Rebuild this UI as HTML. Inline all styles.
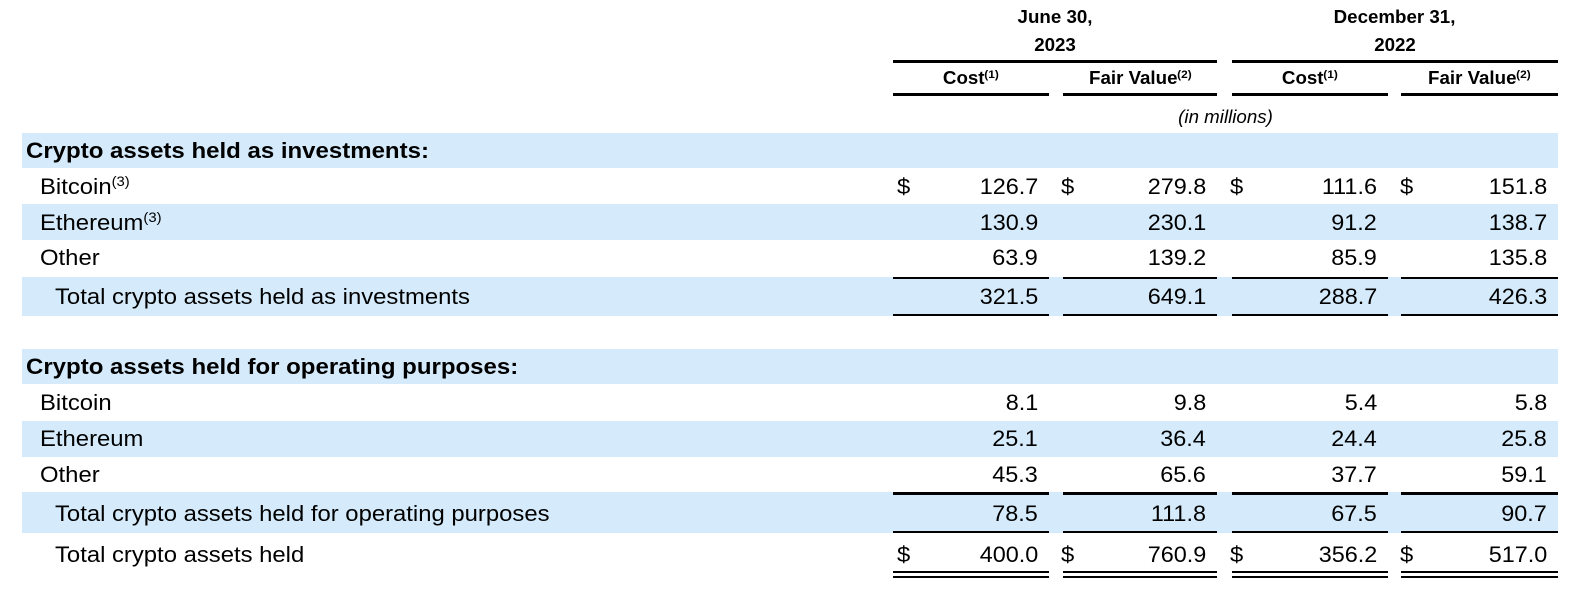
<!DOCTYPE html>
<html>
<head>
<meta charset="utf-8">
<style>
  html,body{margin:0;padding:0;background:#fff;}
  body{width:1578px;height:590px;position:relative;overflow:hidden;
       font-family:"Liberation Sans",Arial,sans-serif;color:#000;}
  .band{position:absolute;left:22px;width:1536px;background:#d5ebfb;}
  .ln{position:absolute;background:#000;}
  .row{position:absolute;left:0;width:1578px;}
  .l{position:absolute;top:0;bottom:0;display:flex;align-items:center;white-space:nowrap;font-size:22.5px;}
  .l span.s{display:inline-block;transform:scaleX(1.06);transform-origin:left center;}
  .l.b span.s{transform:scaleX(1.067);}
  .r{position:absolute;top:0;bottom:0;display:flex;align-items:center;justify-content:flex-end;white-space:nowrap;font-size:22.5px;}
  .r span{display:inline-block;transform:scaleX(1.04);transform-origin:right center;}
  .b{font-weight:bold;}
  .sup{font-size:14px;position:relative;top:-8px;}
  .h{position:absolute;font-weight:bold;font-size:18px;white-space:nowrap;text-align:center;line-height:20px;}
  .h span{display:inline-block;transform:scaleX(1.04);}
  .hsup{font-size:11px;position:relative;top:-6px;}
</style>
</head>
<body>

<!-- column headers -->
<div class="h" style="left:893px;width:324px;top:7px;"><span>June 30,</span></div>
<div class="h" style="left:893px;width:324px;top:35px;"><span>2023</span></div>
<div class="h" style="left:1232px;width:326px;top:7px;"><span>December 31,</span></div>
<div class="h" style="left:1232px;width:326px;top:35px;"><span>2022</span></div>

<div class="ln" style="left:893px;width:324px;top:60px;height:3px;"></div>
<div class="ln" style="left:1232px;width:326px;top:60px;height:3px;"></div>

<div class="h" style="left:893px;width:156px;top:68px;"><span>Cost<span class="hsup">(1)</span></span></div>
<div class="h" style="left:1063px;width:154px;top:68px;"><span>Fair Value<span class="hsup">(2)</span></span></div>
<div class="h" style="left:1232px;width:156px;top:68px;"><span>Cost<span class="hsup">(1)</span></span></div>
<div class="h" style="left:1401px;width:157px;top:68px;"><span>Fair Value<span class="hsup">(2)</span></span></div>

<div class="ln" style="left:893px;width:156px;top:93px;height:3px;"></div>
<div class="ln" style="left:1063px;width:154px;top:93px;height:3px;"></div>
<div class="ln" style="left:1232px;width:156px;top:93px;height:3px;"></div>
<div class="ln" style="left:1401px;width:157px;top:93px;height:3px;"></div>

<div class="h" style="left:1063px;width:326px;top:107px;font-weight:normal;font-style:italic;"><span>(in millions)</span></div>

<!-- bands -->
<div class="band" style="top:133px;height:35px;"></div>
<div class="band" style="top:204px;height:36px;"></div>
<div class="band" style="top:277px;height:39px;"></div>
<div class="band" style="top:349px;height:35px;"></div>
<div class="band" style="top:421px;height:36px;"></div>
<div class="band" style="top:492px;height:41px;"></div>

<!-- lines -->
<div class="ln" style="left:893px;width:156px;top:277px;height:2px;"></div>
<div class="ln" style="left:1063px;width:154px;top:277px;height:2px;"></div>
<div class="ln" style="left:1232px;width:156px;top:277px;height:2px;"></div>
<div class="ln" style="left:1401px;width:157px;top:277px;height:2px;"></div>

<div class="ln" style="left:893px;width:156px;top:314px;height:2px;"></div>
<div class="ln" style="left:1063px;width:154px;top:314px;height:2px;"></div>
<div class="ln" style="left:1232px;width:156px;top:314px;height:2px;"></div>
<div class="ln" style="left:1401px;width:157px;top:314px;height:2px;"></div>

<div class="ln" style="left:893px;width:156px;top:492px;height:3px;"></div>
<div class="ln" style="left:1063px;width:154px;top:492px;height:3px;"></div>
<div class="ln" style="left:1232px;width:156px;top:492px;height:3px;"></div>
<div class="ln" style="left:1401px;width:157px;top:492px;height:3px;"></div>

<div class="ln" style="left:893px;width:156px;top:531px;height:2px;"></div>
<div class="ln" style="left:1063px;width:154px;top:531px;height:2px;"></div>
<div class="ln" style="left:1232px;width:156px;top:531px;height:2px;"></div>
<div class="ln" style="left:1401px;width:157px;top:531px;height:2px;"></div>

<div class="ln" style="left:893px;width:156px;top:571px;height:2px;"></div>
<div class="ln" style="left:1063px;width:154px;top:571px;height:2px;"></div>
<div class="ln" style="left:1232px;width:156px;top:571px;height:2px;"></div>
<div class="ln" style="left:1401px;width:157px;top:571px;height:2px;"></div>
<div class="ln" style="left:893px;width:156px;top:576px;height:2px;"></div>
<div class="ln" style="left:1063px;width:154px;top:576px;height:2px;"></div>
<div class="ln" style="left:1232px;width:156px;top:576px;height:2px;"></div>
<div class="ln" style="left:1401px;width:157px;top:576px;height:2px;"></div>

<!-- R1 -->
<div class="row" style="top:133px;height:35px;">
  <div class="l b" style="left:26px;"><span class="s">Crypto assets held as investments:</span></div>
</div>
<!-- R2 -->
<div class="row" style="top:168px;height:37px;">
  <div class="l" style="left:40px;"><span class="s">Bitcoin<span class="sup">(3)</span></span></div>
  <div class="l" style="left:897px;"><span class="s">$</span></div>
  <div class="r" style="right:540px;"><span>126.7</span></div>
  <div class="l" style="left:1061px;"><span class="s">$</span></div>
  <div class="r" style="right:372px;"><span>279.8</span></div>
  <div class="l" style="left:1230px;"><span class="s">$</span></div>
  <div class="r" style="right:201px;"><span>111.6</span></div>
  <div class="l" style="left:1400px;"><span class="s">$</span></div>
  <div class="r" style="right:31px;"><span>151.8</span></div>
</div>
<!-- R3 -->
<div class="row" style="top:204px;height:37px;">
  <div class="l" style="left:40px;"><span class="s">Ethereum<span class="sup">(3)</span></span></div>
  <div class="r" style="right:540px;"><span>130.9</span></div>
  <div class="r" style="right:372px;"><span>230.1</span></div>
  <div class="r" style="right:201px;"><span>91.2</span></div>
  <div class="r" style="right:31px;"><span>138.7</span></div>
</div>
<!-- R4 -->
<div class="row" style="top:240px;height:36px;">
  <div class="l" style="left:40px;"><span class="s">Other</span></div>
  <div class="r" style="right:540px;"><span>63.9</span></div>
  <div class="r" style="right:372px;"><span>139.2</span></div>
  <div class="r" style="right:201px;"><span>85.9</span></div>
  <div class="r" style="right:31px;"><span>135.8</span></div>
</div>
<!-- R5 -->
<div class="row" style="top:279px;height:35px;">
  <div class="l" style="left:55px;"><span class="s">Total crypto assets held as investments</span></div>
  <div class="r" style="right:540px;"><span>321.5</span></div>
  <div class="r" style="right:372px;"><span>649.1</span></div>
  <div class="r" style="right:201px;"><span>288.7</span></div>
  <div class="r" style="right:31px;"><span>426.3</span></div>
</div>
<!-- R6 -->
<div class="row" style="top:349px;height:35px;">
  <div class="l b" style="left:26px;"><span class="s">Crypto assets held for operating purposes:</span></div>
</div>
<!-- R7 -->
<div class="row" style="top:384px;height:37px;">
  <div class="l" style="left:40px;"><span class="s">Bitcoin</span></div>
  <div class="r" style="right:540px;"><span>8.1</span></div>
  <div class="r" style="right:372px;"><span>9.8</span></div>
  <div class="r" style="right:201px;"><span>5.4</span></div>
  <div class="r" style="right:31px;"><span>5.8</span></div>
</div>
<!-- R8 -->
<div class="row" style="top:421px;height:36px;">
  <div class="l" style="left:40px;"><span class="s">Ethereum</span></div>
  <div class="r" style="right:540px;"><span>25.1</span></div>
  <div class="r" style="right:372px;"><span>36.4</span></div>
  <div class="r" style="right:201px;"><span>24.4</span></div>
  <div class="r" style="right:31px;"><span>25.8</span></div>
</div>
<!-- R9 -->
<div class="row" style="top:457px;height:35px;">
  <div class="l" style="left:40px;"><span class="s">Other</span></div>
  <div class="r" style="right:540px;"><span>45.3</span></div>
  <div class="r" style="right:372px;"><span>65.6</span></div>
  <div class="r" style="right:201px;"><span>37.7</span></div>
  <div class="r" style="right:31px;"><span>59.1</span></div>
</div>
<!-- R10 -->
<div class="row" style="top:495px;height:37px;">
  <div class="l" style="left:55px;"><span class="s">Total crypto assets held for operating purposes</span></div>
  <div class="r" style="right:540px;"><span>78.5</span></div>
  <div class="r" style="right:372px;"><span>111.8</span></div>
  <div class="r" style="right:201px;"><span>67.5</span></div>
  <div class="r" style="right:31px;"><span>90.7</span></div>
</div>
<!-- R11 -->
<div class="row" style="top:536px;height:38px;">
  <div class="l" style="left:55px;"><span class="s">Total crypto assets held</span></div>
  <div class="l" style="left:897px;"><span class="s">$</span></div>
  <div class="r" style="right:540px;"><span>400.0</span></div>
  <div class="l" style="left:1061px;"><span class="s">$</span></div>
  <div class="r" style="right:372px;"><span>760.9</span></div>
  <div class="l" style="left:1230px;"><span class="s">$</span></div>
  <div class="r" style="right:201px;"><span>356.2</span></div>
  <div class="l" style="left:1400px;"><span class="s">$</span></div>
  <div class="r" style="right:31px;"><span>517.0</span></div>
</div>

</body>
</html>
